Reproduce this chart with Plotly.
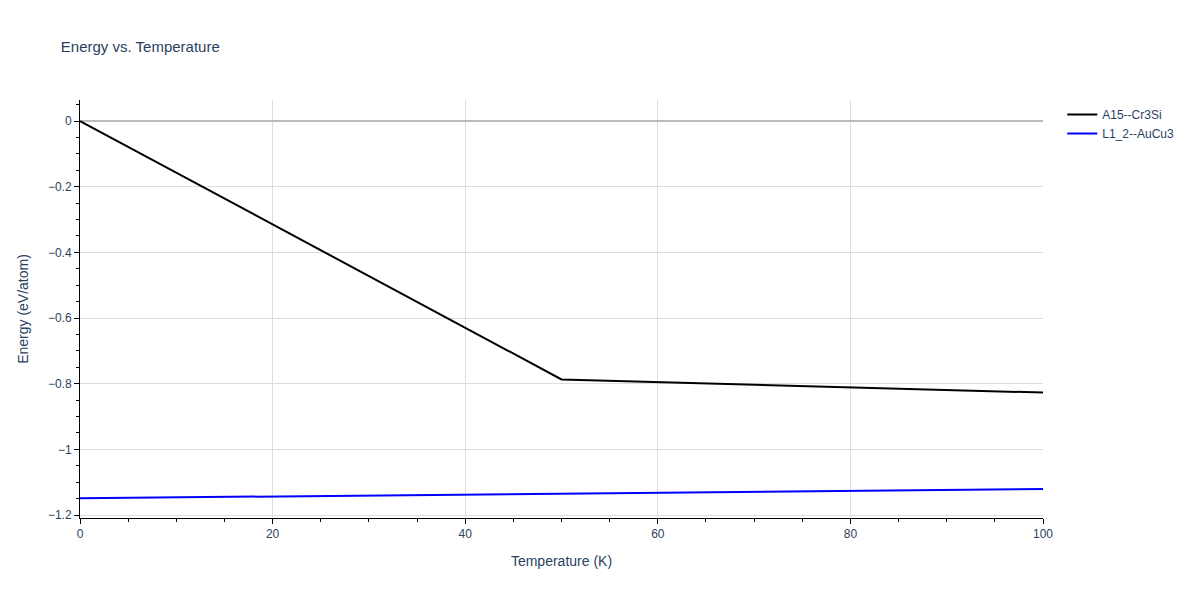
import plotly.graph_objects as go

temps_a15 = [0, 50, 100]
energy_a15 = [0.0, -0.787, -0.827]
temps_l12 = [0, 50, 100]
energy_l12 = [-1.149, -1.136, -1.121]

fig = go.Figure()
fig.add_trace(go.Scatter(x=temps_a15, y=energy_a15, mode="lines", name="A15--Cr3Si",
                         line=dict(color="black", width=2)))
fig.add_trace(go.Scatter(x=temps_l12, y=energy_l12, mode="lines", name="L1_2--AuCu3",
                         line=dict(color="blue", width=2)))
fig.update_layout(
    template="plotly_white",
    width=1200, height=600,
    font=dict(family="Arial, Liberation Sans, sans-serif"),
    title=dict(text="Energy vs. Temperature", x=0.044, y=0.945, font=dict(size=15)),
    margin=dict(l=72, r=165, t=92, b=90),
    legend=dict(x=1.02, y=1, font=dict(size=12)),
    xaxis=dict(title="Temperature (K)", range=[0, 100], showline=True, linecolor="black",
               ticks="outside", tickcolor="black", dtick=20,
               minor=dict(ticks="outside", dtick=5, tickcolor="black", ticklen=3, showgrid=False),
               gridcolor="#dddddd", zeroline=False),
    yaxis=dict(title="Energy (eV/atom)", range=[-1.209, 0.064], showline=True, linecolor="black",
               ticks="outside", tickcolor="black", dtick=0.2,
               minor=dict(ticks="outside", dtick=0.05, tickcolor="black", ticklen=3, showgrid=False),
               gridcolor="#dddddd", zeroline=True, zerolinecolor="#bbbbbb", zerolinewidth=2),
)
fig.write_html("out.html")
